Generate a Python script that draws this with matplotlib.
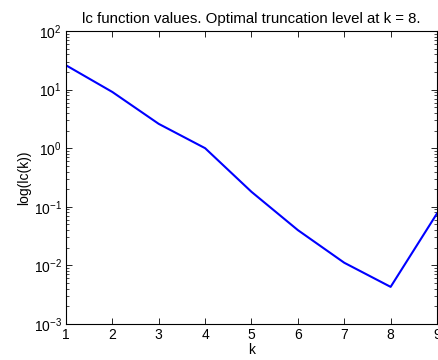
import matplotlib
matplotlib.use("Agg")
import matplotlib.pyplot as plt
from matplotlib.ticker import LogLocator, NullFormatter

k = [1, 2, 3, 4, 5, 6, 7, 8, 9]
lc = [26.0, 9.1, 2.6, 1.0, 0.18, 0.040, 0.0111, 0.0043, 0.077]
xticks = [1, 2, 3, 4, 5, 6, 7, 8, 9]

plt.rcParams['font.family'] = ['Liberation Sans', 'DejaVu Sans']
plt.rcParams['font.size'] = 10

fig = plt.figure(figsize=(4.38, 3.6), dpi=100)
ax = fig.add_axes([66/438, 36/360, 371/438, 293/360])
ax.semilogy(k, lc, color=(0, 0, 1), linewidth=1.5)
ax.set_xlim(1, 9)
ax.set_ylim(1e-3, 1e2)
ax.set_xticks(xticks)
ax.yaxis.set_major_locator(LogLocator(base=10, numticks=10))
ax.yaxis.set_minor_locator(LogLocator(base=10, subs=range(2, 10), numticks=10))
ax.yaxis.set_minor_formatter(NullFormatter())
ax.tick_params(which='both', direction='in', top=True, right=True, labelsize=10)
ax.tick_params(which='major', length=4, width=0.6, pad=3)
ax.tick_params(which='minor', length=2, width=0.5)
for s in ax.spines.values():
    s.set_linewidth(0.8)
ax.set_xlabel('k', fontsize=10, labelpad=0.5)
ax.set_ylabel('log(lc(k))', fontsize=10, labelpad=2)
ax.set_title('lc function values. Optimal truncation level at k = 8.', fontsize=10.8, pad=6)
fig.savefig('out.png', dpi=100)
